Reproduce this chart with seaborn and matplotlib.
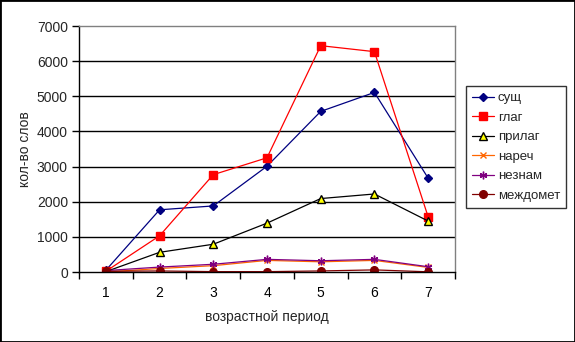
import matplotlib
matplotlib.use("Agg")
import matplotlib.pyplot as plt
import seaborn as sns
import pandas as pd
from matplotlib.patches import Rectangle

# Word counts by age period and part of speech
periods = [1, 2, 3, 4, 5, 6, 7]
sushch = [50, 1770, 1880, 3010, 4570, 5110, 2670]
glag = [20, 1030, 2770, 3250, 6440, 6270, 1570]
prilag = [10, 560, 790, 1390, 2090, 2220, 1450]
narech = [0, 100, 180, 330, 290, 330, 130]
neznam = [40, 140, 220, 360, 320, 360, 150]
mezhdomet = [20, 30, 10, 10, 30, 60, 5]

series_names = ["сущ", "глаг", "прилаг", "нареч", "незнам", "междомет"]
series_values = [sushch, glag, prilag, narech, neznam, mezhdomet]

rows = []
for name, vals in zip(series_names, series_values):
    for p, v in zip(periods, vals):
        rows.append({"период": p, "слов": v, "часть речи": name})
df = pd.DataFrame(rows)

sns.set_theme(style="white")
plt.rcParams["font.family"] = ["Liberation Sans", "DejaVu Sans"]

styles = {
    "сущ": dict(color="#000080", marker="D", mfc="#000080", mec="#000080", ms=4.5),
    "глаг": dict(color="#ff0000", marker="s", mfc="#ff0000", mec="#ff0000", ms=5.5),
    "прилаг": dict(color="#000000", marker="^", mfc="#ffff00", mec="#000000", ms=5.5),
    "нареч": dict(color="#ff6600", marker="x", mfc="#ff6600", mec="#ff6600", ms=4.5),
    "незнам": dict(color="#800080", marker=(6, 2, 0), mfc="#800080", mec="#800080", ms=5.5),
    "междомет": dict(color="#800000", marker="o", mfc="#800000", mec="#800000", ms=5.5),
}

fig = plt.figure(figsize=(5.75, 3.42), dpi=100)
ax = fig.add_axes([79 / 575, 1 - 272 / 342, 376 / 575, 246 / 342])

for name in series_names:
    st = styles[name]
    sub = df[df["часть речи"] == name]
    sns.lineplot(data=sub, x="период", y="слов", ax=ax, color=st["color"],
                 linewidth=0.9, marker=st["marker"], markersize=st["ms"],
                 markerfacecolor=st["mfc"], markeredgecolor=st["mec"],
                 markeredgewidth=1.0, label=name)

ax.set_xlim(0.5, 7.5)
ax.set_ylim(0, 7000)
ax.set_yticks(range(0, 7001, 1000))
ax.set_xticks(periods)
ax.set_xticks([x + 0.5 for x in range(0, 8)], minor=True)
ax.tick_params(axis="x", which="major", length=0, pad=10, labelsize=10, colors="black")
ax.tick_params(axis="x", which="minor", length=5, width=1, direction="out", color="black", bottom=True)
ax.tick_params(axis="y", which="major", length=5, width=1, direction="out", color="black",
               left=True, labelsize=10, pad=3)
for y in range(1000, 7000, 1000):
    ax.axhline(y, color="black", linewidth=1, zorder=0)

ax.spines["left"].set_color("black")
ax.spines["bottom"].set_color("black")
ax.spines["top"].set_color("#808080")
ax.spines["right"].set_color("#808080")
for s in ax.spines.values():
    s.set_linewidth(1)

ax.set_xlabel("возрастной период", fontsize=10, labelpad=7)
ax.set_ylabel("кол-во слов", fontsize=10)
ax.yaxis.set_label_coords(-0.125, 0.5)

leg = ax.legend(loc="upper left", bbox_to_anchor=(466 / 575, 1 - 86 / 342),
                bbox_transform=fig.transFigure, frameon=True, fancybox=False,
                edgecolor="black", fontsize=9.5, handlelength=1.7, labelspacing=0.55,
                borderpad=0.45, handletextpad=0.25, borderaxespad=0)
leg.get_frame().set_linewidth(1)

fig.patches.append(Rectangle((0, 0), 1, 1, transform=fig.transFigure, fill=False,
                             edgecolor="black", linewidth=2))
fig.savefig("out.png", dpi=100, facecolor="white")
